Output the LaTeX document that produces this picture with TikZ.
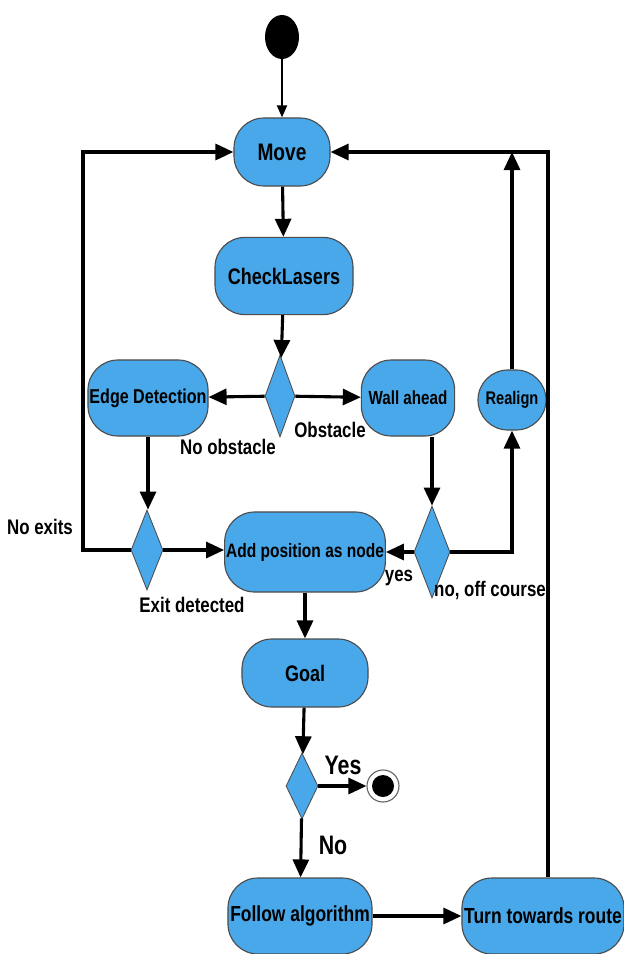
\documentclass[tikz,border=0pt]{standalone}
\usepackage{fontspec}
\setmainfont{Liberation Sans}[FakeStretch=0.8]
\usepackage{tikz}
\usetikzlibrary{shapes.geometric,arrows.meta}
\usepackage{xcolor}
\definecolor{actblue}{RGB}{73,168,234}
\tikzset{
	act/.style={rectangle,rounded corners=0.75cm,draw=black!70,fill=actblue,line width=0.8pt,inner sep=1pt,font=\bfseries\fontsize{#1}{#1}\selectfont},
	act/.default=13,
	branch/.style={diamond,draw=black!70,fill=actblue,line width=0.6pt,inner sep=0pt},
	flow/.style={line width=2.2pt,-{Triangle[length=4.5mm,width=4mm]}},
	lbl/.style={inner sep=0pt,font=\bfseries\fontsize{#1}{#1}\selectfont},
	lbl/.default=15
}

\begin{document}
\begin{tikzpicture}[x=0.025cm,y=-0.025cm]
			\useasboundingbox (0,0) rectangle (624,954);
			\node[ellipse,fill=black,minimum width=0.85cm,minimum height=1.1cm] (start) at (282,37) {};
			\node[act=17,minimum width=2.4cm,minimum height=1.7cm] (move) at (282,152) {Move};
			\node[act=16,minimum width=3.45cm,minimum height=1.93cm] (check) at (284,276) {CheckLasers};
			\node[branch,minimum width=0.75cm,minimum height=2.05cm] (dobst) at (280,396) {};
			\node[act=14.3,minimum width=3cm,minimum height=1.9cm] (edge) at (148,398) {Edge Detection};
			\node[act=13.5,minimum width=2.33cm,minimum height=1.9cm] (wall) at (408,398) {Wall ahead};
			\node[act,minimum width=1.7cm,minimum height=1.5cm] (realign) at (512,400) {Realign};
			\node[branch,minimum width=0.8cm,minimum height=2cm] (dexit) at (147,550) {};
			\node[act=13.8,minimum width=4cm,minimum height=2cm] (addpos) at (305,552) {Add position as node};
			\node[branch,minimum width=0.9cm,minimum height=2.3cm] (dwall) at (432,552) {};
			\node[act=16,minimum width=3.15cm,minimum height=1.7cm] (goal) at (305,673) {Goal};
			\node[branch,minimum width=0.8cm,minimum height=1.65cm] (dgoal) at (302,786) {};
			\node[circle,draw=black!60,fill=white,line width=0.8pt,minimum size=0.8cm] (final) at (383,786) {};
			\node[circle,fill=black,minimum size=0.55cm] at (final) {};
			\node[act=15.5,minimum width=3.6cm,minimum height=1.9cm] (follow) at (300,916) {Follow algorithm};
			\node[act=15.5,minimum width=4.05cm,minimum height=1.9cm] (turn) at (543,916) {Turn towards route};
			\coordinate (nw) at (83,152);
			\coordinate (ne) at (548,152);
			\draw[line width=1.4pt,-{Triangle[length=3mm,width=2.5mm]}] (start) -- (move);
			\draw[flow] (move) -- (check);
			\draw[flow] (check) -- (dobst);
			\draw[flow] (dobst) -- (edge);
			\draw[flow] (dobst) -- (wall);
			\draw[flow] (edge.south) -- (edge.south |- dexit.north);
			\draw[flow] (wall.south -| dwall.north) -- (dwall.north);
			\draw[flow] (dexit.east) -- (dexit.east -| addpos.west);
			\draw[flow] (dwall) -- (addpos);
			\draw[flow] (dwall.east) -| (realign.south);
			\draw[flow] (realign.north) -- (realign.north |- ne);
			\draw[flow] (dexit.west) -| (nw) -- (move.west);
			\draw[flow] (turn.north -| ne) -- (ne) -- (move.east);
			\draw[flow] (addpos) -- (goal);
			\draw[flow] (goal) -- (dgoal);
			\draw[flow] (dgoal) -- (final);
			\draw[flow] (dgoal) -- (follow);
			\draw[flow] (follow) -- (turn);
			\node[lbl] (lnoobst) at (228,447) {No obstacle};
			\node[lbl] (lobst) at (330,430) {Obstacle};
			\node[lbl] (lnoexit) at (40,527) {No exits};
			\node[lbl] (lexit) at (192,605) {Exit detected};
			\node[lbl] (lyes) at (399,578) {yes};
			\node[lbl] (loff) at (490,590) {no, off course};
			\node[lbl=19] (lgoalyes) at (343,765) {Yes};
			\node[lbl=19] (lgoalno) at (333,845) {No};
		\end{tikzpicture}
\end{document}
